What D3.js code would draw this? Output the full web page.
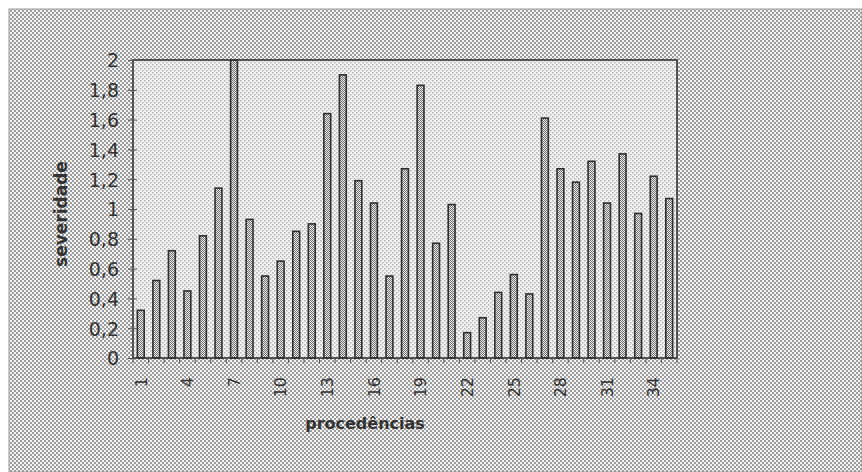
<!DOCTYPE html>
<html>
<head>
<meta charset="utf-8">
<script src="https://cdn.jsdelivr.net/npm/d3@7/dist/d3.min.js"></script>
<style>
  html, body { margin: 0; padding: 0; background: #fff; }
  svg { display: block; }
</style>
</head>
<body>
<script>
const categories = d3.range(1, 36).map(String);
const severidade = [0.32, 0.52, 0.72, 0.45, 0.82, 1.14, 2.0, 0.93, 0.55, 0.65,
                    0.85, 0.90, 1.64, 1.90, 1.19, 1.04, 0.55, 1.27, 1.83, 0.77,
                    1.03, 0.17, 0.27, 0.44, 0.56, 0.43, 1.61, 1.27, 1.18, 1.32,
                    1.04, 1.37, 0.97, 1.22, 1.07];
const yTicks = [0, 0.2, 0.4, 0.6, 0.8, 1, 1.2, 1.4, 1.6, 1.8, 2];
const xTickLabels = ["1", "4", "7", "10", "13", "16", "19", "22", "25", "28", "31", "34"];

const W = 862, H = 472;
const plot = { left: 133, right: 677, top: 60, bottom: 358 };

const svg = d3.select("body").append("svg").attr("width", W).attr("height", H);
const defs = svg.append("defs");

function dotPattern(id, bg, fg, size, dot) {
  const p = defs.append("pattern").attr("id", id).attr("patternUnits", "userSpaceOnUse")
    .attr("width", size).attr("height", size);
  p.append("rect").attr("width", size).attr("height", size).attr("fill", bg);
  p.append("rect").attr("x", 0).attr("y", 0).attr("width", dot).attr("height", dot).attr("fill", fg);
  p.append("rect").attr("x", size / 2).attr("y", size / 2).attr("width", dot).attr("height", dot).attr("fill", fg);
}
dotPattern("outerPat", "#f4f4f4", "#9c9c9c", 4, 2);
dotPattern("plotPat", "#f2f2f2", "#b4b4b4", 4, 1.5);
dotPattern("barPat", "#e8e8e8", "#747474", 2, 1);

// outer background
svg.append("rect").attr("x", 9).attr("y", 9).attr("width", W - 9).attr("height", H - 9)
  .attr("fill", "url(#outerPat)").attr("stroke", "#999").attr("stroke-width", 1);

const x = d3.scaleBand().domain(categories).range([plot.left, plot.right]).paddingInner(0).paddingOuter(0);
const y = d3.scaleLinear().domain([0, 2]).range([plot.bottom, plot.top]);

// plot area
svg.append("rect").attr("x", plot.left).attr("y", plot.top)
  .attr("width", plot.right - plot.left).attr("height", plot.bottom - plot.top)
  .attr("fill", "url(#plotPat)");

// bars
const bw = x.bandwidth() * 0.44;
svg.append("g").selectAll("rect").data(severidade).join("rect")
  .attr("x", (d, i) => x(categories[i]) + (x.bandwidth() - bw) / 2)
  .attr("y", d => y(d))
  .attr("width", bw)
  .attr("height", d => y(0) - y(d))
  .attr("fill", "url(#barPat)")
  .attr("stroke", "#2e2e2e")
  .attr("stroke-width", 1.6);

// plot border
svg.append("rect").attr("x", plot.left).attr("y", plot.top)
  .attr("width", plot.right - plot.left).attr("height", plot.bottom - plot.top)
  .attr("fill", "none").attr("stroke", "#333").attr("stroke-width", 1.6);

// y axis
const yAxis = d3.axisLeft(y).tickValues(yTicks).tickSize(5)
  .tickFormat(d => d3.format("")(+d.toFixed(1)).replace(".", ","));
const gy = svg.append("g").attr("transform", `translate(${plot.left},0)`).call(yAxis);
gy.select(".domain").remove();
gy.selectAll(".tick line").attr("x1", -5).attr("x2", 4).attr("stroke", "#555");
gy.selectAll(".tick text").attr("x", -14).attr("dy", "0.36em")
  .attr("font-family", "DejaVu Sans").attr("font-size", 19).attr("fill", "#333");

// x axis: boundary ticks
const boundaries = categories.map(c => x(c)).concat([plot.right]);
svg.append("g").selectAll("line").data(boundaries).join("line")
  .attr("x1", d => d).attr("x2", d => d)
  .attr("y1", plot.bottom).attr("y2", plot.bottom + 5)
  .attr("stroke", "#555").attr("stroke-width", 1);

// x labels
svg.append("g").selectAll("text").data(xTickLabels).join("text")
  .attr("transform", d => `translate(${x(d) + x.bandwidth() / 2},${plot.bottom + 19}) rotate(-90)`)
  .attr("text-anchor", "end")
  .attr("dy", "0.36em")
  .attr("font-family", "DejaVu Sans").attr("font-size", 16).attr("fill", "#333")
  .text(d => d);

// axis titles
svg.append("text")
  .attr("transform", `translate(67,214) rotate(-90)`)
  .attr("text-anchor", "middle")
  .attr("font-family", "DejaVu Sans").attr("font-weight", "bold").attr("font-size", 17)
  .attr("fill", "#333").text("severidade");

svg.append("text")
  .attr("x", 365).attr("y", 429)
  .attr("text-anchor", "middle")
  .attr("font-family", "DejaVu Sans").attr("font-weight", "bold").attr("font-size", 16)
  .attr("fill", "#333").text("procedências");
</script>
</body>
</html>
